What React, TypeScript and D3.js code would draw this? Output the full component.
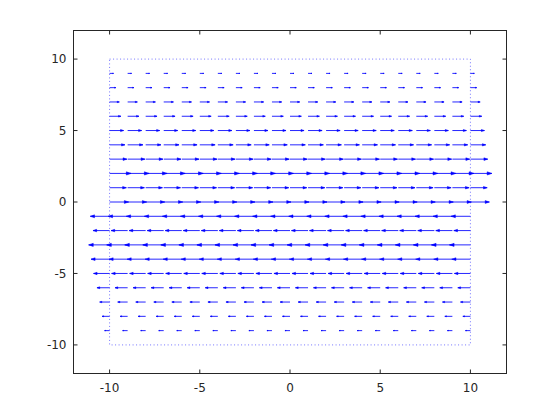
import React from "react";
import * as d3 from "d3";

// grid columns and rows of the quiver field
const gridX = [-10, -9, -8, -7, -6, -5, -4, -3, -2, -1, 0, 1, 2, 3, 4, 5, 6, 7, 8, 9, 10];
const rowY = [9, 8, 7, 6, 5, 4, 3, 2, 1, 0, -1, -2, -3, -4, -5, -6, -7, -8, -9];
// horizontal component per row (as drawn)
const rowU = [0.22, 0.35, 0.54, 0.63, 0.78, 0.85, 0.96, 1.19, 0.93, 1.05,
  -1.07, -0.92, -1.16, -1.03, -0.89, -0.7, -0.55, -0.42, -0.28];
// dotted frame corners
const frameX = [-10, 10, 10, -10, -10];
const frameY = [10, 10, -10, -10, 10];
const tickValues = [-10, -5, 0, 5, 10];

const width = 560;
const height = 420;

const App = () => {
  const xScale = d3.scaleLinear().domain([-12, 12]).range([73.5, 506.5]);
  const yScale = d3.scaleLinear().domain([-12, 12]).range([373.5, 30.5]);

  const arrows: { x: number; y: number; u: number }[] = [];
  rowY.forEach((y, i) => {
    gridX.forEach(x => arrows.push({ x, y, u: rowU[i] }));
  });

  const frame = d3.line<number>()
    .x((d, i) => xScale(frameX[i]))
    .y((d, i) => yScale(frameY[i]));

  const axisColor = "#262626";
  const [x0, x1] = xScale.range();
  const [y0, y1] = yScale.range();

  return (
    <svg width={width} height={height} style={{ position: "absolute", left: 0, top: 0, background: "#fff" }}>
      <path d={frame(frameX) || ""} fill="none" stroke="#0000ff" strokeOpacity={0.55}
        strokeDasharray="1,2.5" strokeWidth={1} />
      {arrows.map((a, i) => {
        const sx = xScale(a.x);
        const sy = yScale(a.y);
        const ex = xScale(a.x + a.u);
        const len = ex - sx;
        const hl = len * 0.22;
        const hw = Math.abs(len) * 0.075;
        return (
          <g key={i} stroke="#0000ff" strokeWidth={1} fill="#0000ff" strokeOpacity={0.85}>
            <line x1={sx} y1={sy} x2={ex} y2={sy} />
            <path d={`M${ex},${sy}L${ex - hl},${sy - hw}L${ex - hl},${sy + hw}Z`} strokeWidth={0.6} />
          </g>
        );
      })}
      <rect x={x0} y={y1} width={x1 - x0} height={y0 - y1} fill="none" stroke={axisColor} strokeWidth={1} />
      {tickValues.map(t => (
        <g key={"x" + t}>
          <line x1={xScale(t)} x2={xScale(t)} y1={y0} y2={y0 - 4} stroke={axisColor} />
          <line x1={xScale(t)} x2={xScale(t)} y1={y1} y2={y1 + 4} stroke={axisColor} />
          <text x={xScale(t)} y={y0 + 18} textAnchor="middle" fontFamily="DejaVu Sans" fontSize={12} fill={axisColor}>{t}</text>
        </g>
      ))}
      {tickValues.map(t => (
        <g key={"y" + t}>
          <line x1={x0} x2={x0 + 4} y1={yScale(t)} y2={yScale(t)} stroke={axisColor} />
          <line x1={x1} x2={x1 - 4} y1={yScale(t)} y2={yScale(t)} stroke={axisColor} />
          <text x={x0 - 7} y={yScale(t)} dy="0.35em" textAnchor="end" fontFamily="DejaVu Sans" fontSize={12} fill={axisColor}>{t}</text>
        </g>
      ))}
    </svg>
  );
};

export default App;
